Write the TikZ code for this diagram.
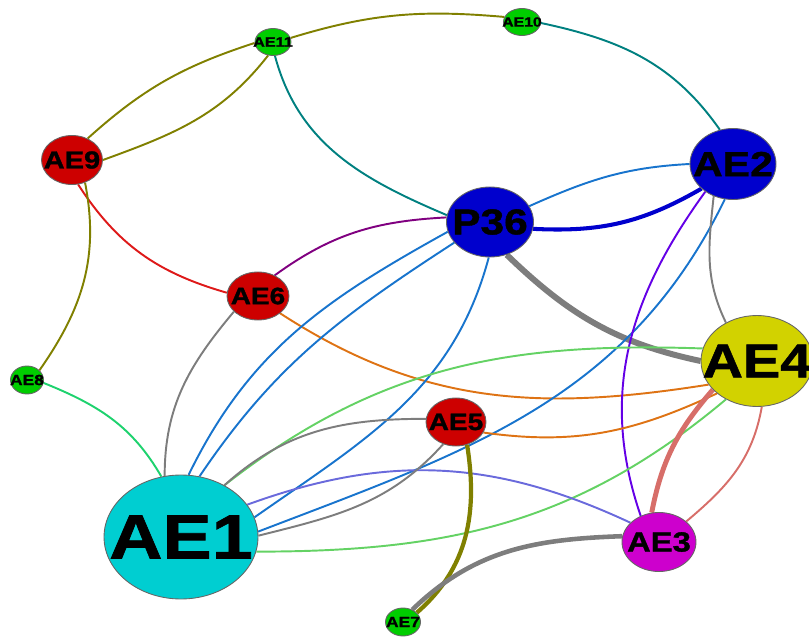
\documentclass[tikz,border=0pt]{standalone}
\usepackage{fontspec}
\newfontfamily\nodefont{Liberation Sans}[FakeStretch=1.18,FakeBold=1.2]
\usepackage{tikz}
\usetikzlibrary{shapes.geometric,backgrounds}

% node fills
\definecolor{aecyan}{RGB}{0,206,209}
\definecolor{aeyellow}{RGB}{210,210,0}
\definecolor{aeblue}{RGB}{0,0,205}
\definecolor{aered}{RGB}{205,0,0}
\definecolor{aemagenta}{RGB}{205,0,205}
\definecolor{aegreen}{RGB}{0,205,0}
% edge colours
\definecolor{eolive}{RGB}{128,128,0}
\definecolor{eteal}{RGB}{0,128,128}
\definecolor{ered}{RGB}{222,25,25}
\definecolor{epurple}{RGB}{128,0,128}
\definecolor{eblue}{RGB}{24,116,205}
\definecolor{edarkblue}{RGB}{0,0,205}
\definecolor{egray}{RGB}{125,125,125}
\definecolor{eorange}{RGB}{222,115,20}
\definecolor{elightgreen}{RGB}{100,210,100}
\definecolor{espring}{RGB}{30,210,110}
\definecolor{eviolet}{RGB}{100,0,230}
\definecolor{eslate}{RGB}{106,106,220}
\definecolor{esalmon}{RGB}{215,110,105}

% label with no width, so the ellipse keeps its given size
\newcommand{\lbl}[1]{\makebox[0pt]{#1}}

\begin{document}
\begin{tikzpicture}[x=0.02cm,y=0.02cm]
    \tikzset{ae/.style={ellipse,draw=black!60,line width=0.5pt,inner sep=0pt},
             fs/.style={font=\nodefont\bfseries\fontsize{#1}{#1}\selectfont},
             wire/.style={line width=1.1pt},
             fat/.style={line width=#1}}
    \useasboundingbox (0,0) rectangle (809,637);

    \node[ae,fill=aecyan,minimum width=3.08cm,minimum height=2.48cm,fs=35.6] (AE1) at (181,100) {\lbl{AE1}};
    \node[ae,fill=aeblue,minimum width=1.72cm,minimum height=1.42cm,fs=19.8] (AE2) at (733,473) {\lbl{AE2}};
    \node[ae,fill=aeblue,minimum width=1.74cm,minimum height=1.40cm,fs=20.5] (P36) at (490,415) {\lbl{P36}};
    \node[ae,fill=aeyellow,minimum width=2.24cm,minimum height=1.82cm,fs=27] (AE4) at (757,276) {\lbl{AE4}};
    \node[ae,fill=aemagenta,minimum width=1.48cm,minimum height=1.18cm,fs=15.8] (AE3) at (659,95) {\lbl{AE3}};
    \node[ae,fill=aered,minimum width=1.20cm,minimum height=0.96cm,fs=13.5] (AE5) at (456,215) {\lbl{AE5}};
    \node[ae,fill=aered,minimum width=1.24cm,minimum height=0.96cm,fs=13.5] (AE6) at (258,341) {\lbl{AE6}};
    \node[ae,fill=aered,minimum width=1.22cm,minimum height=0.98cm,fs=14] (AE9) at (72,477) {\lbl{AE9}};
    \node[ae,fill=aegreen,minimum width=0.66cm,minimum height=0.56cm,fs=8.4] (AE8) at (27,257) {\lbl{AE8}};
    \node[ae,fill=aegreen,minimum width=0.70cm,minimum height=0.56cm,fs=8.4] (AE7) at (403,15) {\lbl{AE7}};
    \node[ae,fill=aegreen,minimum width=0.72cm,minimum height=0.54cm,fs=7.8] (AE11) at (273,595) {\lbl{AE11}};
    \node[ae,fill=aegreen,minimum width=0.74cm,minimum height=0.54cm,fs=7.6] (AE10) at (522,615) {\lbl{AE10}};

    \begin{pgfonlayer}{background}
    \path[wire]
    (AE9.54) edge [eolive,out=42,in=198] (AE11.183)
    (AE9.0) edge [eolive,out=20,in=232] (AE11.250)
    (AE9.284) edge [ered,out=303,in=164] (AE6.174)
    (AE9.300) edge [eolive,out=281,in=55] (AE8.38)
    (AE11.13) edge [eolive,out=17,in=175] (AE10.164)
    (AE11.278) edge [eteal,out=285,in=157] (P36.171)
    (AE10.357) edge [eteal,out=348,in=125] (AE2.111)
    (AE8.350) edge [espring,out=338,in=120] (AE1.108)

    (AE6.213) edge [egray,out=230,in=90] (AE1.105)
    (AE6.51) edge [epurple,out=36,in=183] (P36.174)
    (AE6.322) edge [eorange,out=327,in=189] (AE4.206)

    (P36.193) edge [eblue,out=209,in=64] (AE1.83)
    (P36.210) edge [eblue,out=213,in=56] (AE1.73)
    (P36.268) edge [eblue,out=255,in=35] (AE1.15)
    (P36.22) edge [eblue,out=24,in=183] (AE2.180)
    (P36.351) edge [edarkblue,fat=2.3pt,out=357,in=210] (AE2.218)
    (P36.297) edge [egray,fat=3.4pt,out=316,in=168] (AE4.180)

    (AE2.257) edge [eblue,out=244,in=21] (AE1.4)
    (AE2.239) edge [egray,out=264,in=116] (AE4.129)
    (AE2.225) edge [eviolet,out=234,in=109] (AE3.125)

    (AE1.50) edge [elightgreen,out=38,in=178] (AE4.167)
    (AE1.349) edge [elightgreen,out=0,in=220] (AE4.231)
    (AE1.26) edge [eslate,out=20,in=155] (AE3.146)
    (AE1.50) edge [egray,out=42,in=180] (AE5.174)
    (AE1.1) edge [egray,out=14,in=228] (AE5.240)

    (AE5.339) edge [eorange,out=352,in=205] (AE4.219)
    (AE5.296) edge [eolive,fat=2.4pt,out=279,in=41] (AE7.34)

    (AE4.213) edge [esalmon,fat=2.8pt,out=229,in=79] (AE3.104)
    (AE4.276) edge [esalmon,out=260,in=40] (AE3.37)
    (AE3.171) edge [egray,fat=2.6pt,out=182,in=44] (AE7.53)
    ;
    \end{pgfonlayer}
\end{tikzpicture}
\end{document}
